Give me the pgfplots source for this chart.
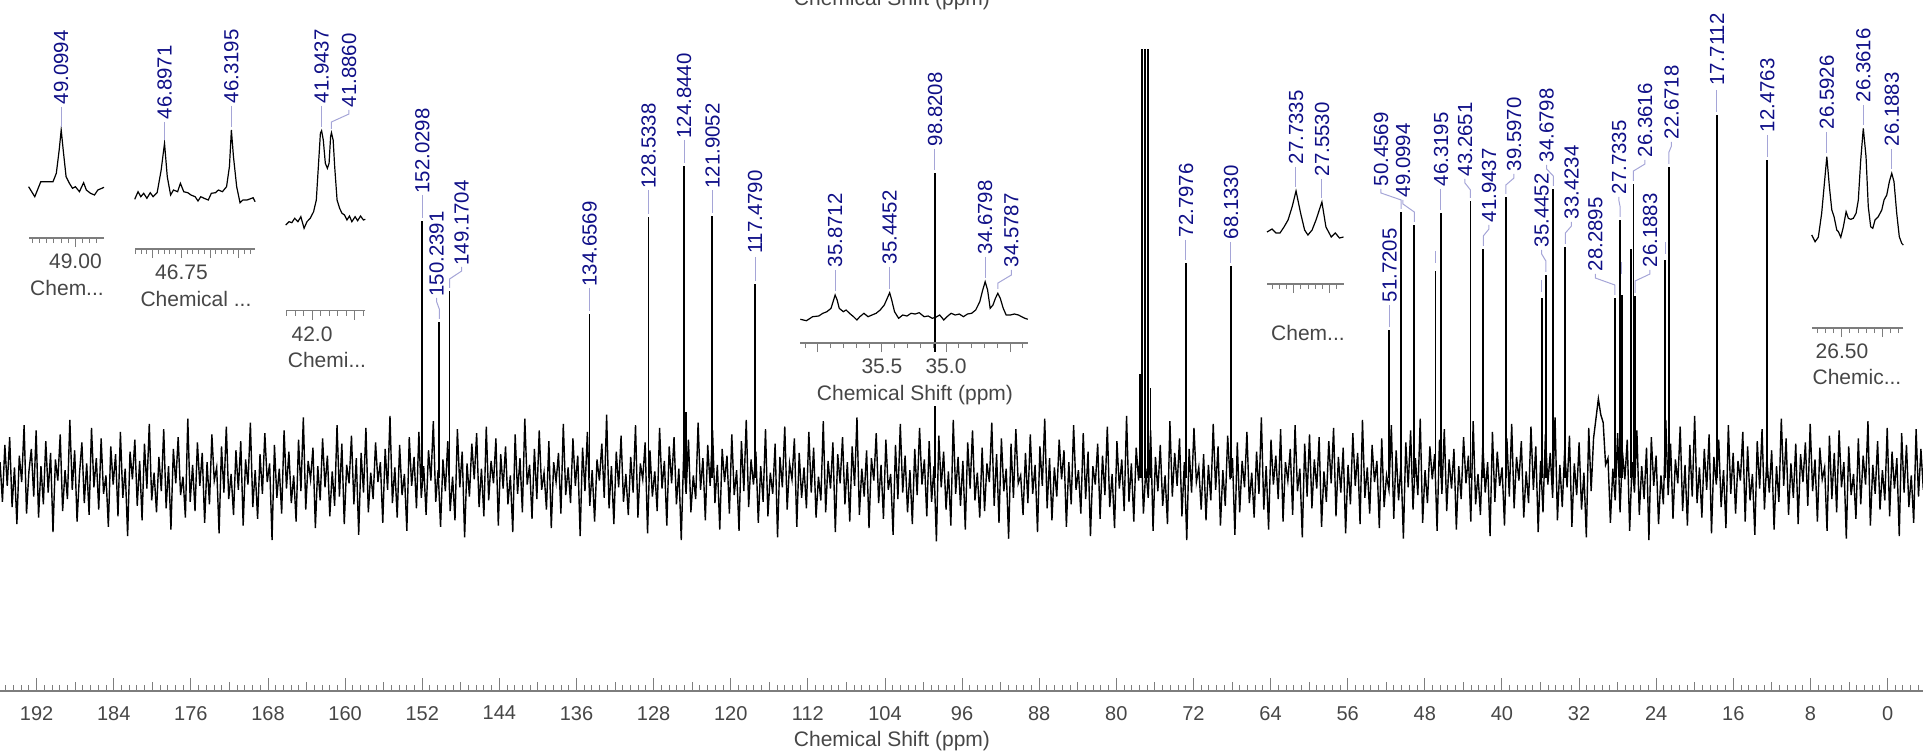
\documentclass[border=0pt]{standalone}
\usepackage{pgfplots}
\pgfplotsset{compat=1.18}
\usepackage{fontspec}
\setmainfont{Liberation Sans}
\definecolor{lblue}{RGB}{15,15,135}
\definecolor{leadc}{RGB}{165,165,215}
\definecolor{tgray}{RGB}{70,70,70}
\definecolor{agray}{RGB}{125,125,125}
\newcommand\lblfont{\fontsize{10.2bp}{12bp}\selectfont}
\newcommand\tfont{\fontsize{10.5bp}{12bp}\selectfont}
\newcommand\pl[3]{\node[rotate=90,anchor=east,inner sep=0pt,text=lblue,font=\lblfont] at (#1,#2) {#3};}
\pgfplotsset{inset/.style={anchor=south west, scale only axis, x dir=reverse,
  axis x line*=bottom, axis y line=none, tick align=outside,
  major tick length=4.5bp, minor tick length=2.5bp,
  axis line style={agray,line width=0.6bp}, tick style={agray,line width=0.5bp},
  xticklabel style={font=\tfont,text=tgray}, ymin=0, clip=false}}
\begin{document}
\begin{tikzpicture}
\useasboundingbox (0bp,0bp) rectangle (961.5bp,-375.5bp);
\begin{axis}[at={(0bp,-345.5bp)}, anchor=south west, scale only axis,
  width=961.5bp, height=320.5bp,
  xmin=-3.675, xmax=195.807, x dir=reverse, ymin=-213, ymax=428,
  axis x line*=bottom, axis y line=none,
  axis line style={agray,line width=0.6bp},
  xtick={0,8,...,192}, minor xtick={-3.2,-2.4,...,195.2},
  extra x ticks={4,12,...,188}, extra x tick labels={},
  extra x tick style={major tick length=4.5bp},
  tick align=inside, major tick length=6.5bp, minor tick length=3bp,
  tick style={agray,line width=0.5bp},
  xticklabel style={font=\fontsize{10bp}{12bp}\selectfont,text=tgray,yshift=-4bp},
  /pgf/number format/assume math mode=true, clip=true]
\addplot[black,line width=0.7bp] table[row sep=\\,header=false,x expr={195.8-\coordindex*0.2497},y expr={1.32*\thisrowno{0}}] {
12\\-18\\25\\-6\\31\\-22\\8\\-35\\17\\-3\\40\\-27\\5\\22\\-14\\36\\-30\\9\\-20\\28\\-11\\19\\-41\\14\\-2\\33\\-25\\6\\-16\\44\\-9\\21\\-33\\3\\27\\-19\\11\\-28\\38\\-7\\15\\-24\\30\\-12\\2\\-37\\24\\-5\\18\\-29\\
35\\-15\\7\\-44\\20\\-1\\29\\-21\\13\\-32\\26\\-8\\41\\-17\\4\\-26\\16\\-10\\37\\-23\\9\\-39\\22\\-4\\31\\-13\\1\\-30\\45\\-18\\10\\-25\\27\\-6\\19\\-34\\12\\-20\\33\\-2\\8\\-42\\24\\-11\\39\\-16\\3\\-28\\21\\-9\\
28\\-36\\14\\-5\\42\\-22\\6\\-31\\18\\-12\\34\\-3\\11\\-47\\25\\-15\\7\\-27\\36\\-8\\20\\-19\\2\\-33\\29\\-10\\46\\-24\\13\\-1\\23\\-38\\9\\-17\\30\\-7\\17\\-29\\5\\-21\\40\\-14\\26\\-35\\10\\-4\\32\\-20\\15\\-43\\
19\\-11\\38\\-26\\4\\-16\\27\\-3\\12\\-34\\22\\-9\\47\\-19\\8\\-30\\25\\-13\\3\\-40\\31\\-6\\16\\-23\\35\\-15\\9\\-28\\21\\-2\\43\\-18\\6\\-37\\14\\-10\\28\\-25\\1\\-32\\37\\-7\\20\\-45\\11\\-14\\26\\-1\\34\\-22\\
7\\-29\\39\\-17\\13\\-4\\30\\-36\\18\\-8\\24\\-20\\2\\-41\\33\\-12\\15\\-26\\45\\-5\\10\\-31\\22\\-16\\36\\-9\\4\\-24\\28\\-38\\12\\-3\\19\\-27\\41\\-13\\8\\-19\\30\\-6\\17\\-44\\23\\-10\\35\\-21\\6\\-33\\14\\-2\\
26\\-15\\48\\-23\\9\\-35\\20\\-7\\32\\-18\\3\\-28\\16\\-11\\40\\-30\\11\\-1\\27\\-42\\21\\-14\\5\\-25\\38\\-8\\13\\-36\\24\\-4\\31\\-20\\7\\-47\\18\\-12\\29\\-26\\2\\-16\\42\\-9\\15\\-32\\25\\-6\\36\\-19\\10\\-39\\
22\\-3\\17\\-27\\33\\-13\\6\\-40\\28\\-10\\44\\-22\\14\\-5\\20\\-34\\9\\-18\\37\\-29\\4\\-12\\26\\-45\\16\\-7\\39\\-24\\11\\-1\\30\\-37\\19\\-15\\8\\-23\\35\\-11\\23\\-30\\1\\-17\\43\\-26\\13\\-8\\27\\-41\\18\\-4\\
31\\-20\\12\\-33\\24\\-6\\46\\-28\\7\\-14\\21\\-38\\15\\-2\\34\\-19\\10\\-31\\29\\-9\\3\\-43\\25\\-16\\41\\-11\\17\\-26\\6\\-35\\22\\-13\\38\\-5\\14\\-29\\28\\-18\\9\\-48\\32\\-7\\20\\-24\\5\\-36\\44\\-12\\16\\-21\\
13\\-39\\27\\-8\\36\\-17\\4\\-30\\23\\-25\\11\\-3\\42\\-21\\18\\-34\\30\\-10\\7\\-46\\26\\-15\\37\\-4\\2\\-28\\19\\-19\\33\\-12\\10\\-41\\24\\-6\\45\\-23\\15\\-32\\8\\-14\\29\\-1\\21\\-37\\12\\-20\\40\\-9\\6\\-27\\
34\\-16\\20\\-44\\9\\-5\\26\\-31\\17\\-13\\39\\-22\\3\\-38\\28\\-8\\14\\-25\\47\\-18\\11\\-33\\23\\-2\\31\\-27\\7\\-15\\36\\-40\\16\\-10\\25\\-21\\2\\-35\\43\\-14\\19\\-6\\30\\-29\\12\\-47\\22\\-11\\38\\-3\\8\\-24\\
18\\-32\\10\\-17\\41\\-9\\24\\-36\\6\\-21\\32\\-1\\15\\-43\\27\\-26\\13\\-7\\35\\-19\\4\\-30\\20\\-12\\46\\-24\\9\\-39\\29\\-5\\17\\-16\\37\\-33\\12\\-2\\22\\-28\\40\\-10\\7\\-45\\26\\-14\\33\\-23\\14\\-8\\31\\-37\\
5\\-18\\28\\-4\\38\\-29\\16\\-11\\23\\-42\\10\\-20\\34\\-6\\19\\-35\\44\\-15\\8\\-27\\25\\-3\\13\\-38\\30\\-22\\2\\-9\\40\\-31\\21\\-17\\11\\-46\\27\\-7\\36\\-24\\15\\-13\\45\\-34\\6\\-19\\24\\-1\\18\\-40\\29\\-12\\
37\\-25\\14\\-8\\22\\-39\\9\\-16\\31\\-4\\17\\-33\\43\\-20\\3\\-28\\26\\-11\\12\\-44\\35\\-18\\20\\-6\\8\\-36\\30\\-14\\41\\-23\\16\\-2\\28\\-30\\5\\-19\\39\\-9\\24\\-41\\13\\-26\\33\\-5\\19\\-15\\46\\-32\\10\\-22\\
21\\-7\\32\\-37\\11\\-13\\27\\-24\\4\\-45\\38\\-10\\30\\45\\60\\48\\42\\10\\15\\-34\\7\\-17\\34\\-26\\20\\-1\\29\\-40\\12\\-11\\36\\-28\\9\\-16\\23\\-47\\31\\-6\\17\\-35\\2\\-20\\44\\-13\\26\\-31\\14\\-4\\39\\-25\\
10\\-36\\25\\-14\\47\\-19\\8\\-30\\22\\-9\\33\\-42\\16\\-5\\29\\-22\\6\\-38\\40\\-12\\19\\-27\\13\\-2\\35\\-33\\24\\-17\\3\\-43\\28\\-8\\37\\-24\\15\\-11\\21\\-39\\9\\-18\\45\\-6\\30\\-28\\11\\-15\\26\\-35\\18\\-3\\
27\\-21\\41\\-10\\14\\-33\\23\\-1\\8\\-40\\32\\-16\\19\\-26\\36\\-7\\12\\-46\\24\\-13\\3\\-31\\30\\-20\\17\\-5\\43\\-36\\10\\-12\\28\\-24\\6\\-17\\38\\-29\\20\\-8\\15\\-44\\34\\-11\\25\\-22\\2\\-34\\37\\-14\\22\\-9\\
};
\addplot[ycomb,black,line width=0.9bp,no marks] coordinates {
(152.0298,257)(150.2391,156)(149.1704,187)(134.6569,164)(128.5338,261)(124.8440,312)(124.65,66)
(121.9052,262)(117.4790,194)(98.8208,305)(77.55,104)(77.32,700)(77.0,700)(76.68,700)(76.45,90)
(72.7976,215)(68.1330,212)(51.7205,148)(50.4569,266)(49.0994,253)(46.8971,207)(46.3195,265)
(43.2651,277)(41.9437,229)(39.5970,281)(35.8712,180)(35.4452,203)(34.6798,289)(33.4234,231)
(28.2895,180)(27.7335,258)(27.5530,183)(26.5926,229)(26.3616,294)(26.1883,182)(23.05,218)
(22.6718,311)(17.7112,363)(12.4763,318)};
\end{axis}
\begin{scope}[x=0.5bp,y=-0.5bp]
\fill[white] (799,352) rectangle (1030,406);
\end{scope}
% inset 1
\begin{axis}[inset, at={(14.3bp,-119bp)}, width=37.7bp, height=57.5bp,
  xmin=48.801, xmax=49.326, ymax=115, xtick={49.0}, xticklabels={49.00},
  minor xtick={48.85,48.9,48.95,49.05,49.1,49.15,49.2,49.25,49.3}]
\addplot[black,line width=0.6bp] coordinates {(49.326,51.3)(49.283,41.3)(49.241,56.3)(49.156,56.3)(49.133,64.7)(49.113,88)(49.099,108)(49.085,88)(49.065,61.3)(49.042,54.7)(49.020,49.7)(49.000,51.3)(48.972,46.3)(48.943,55.3)(48.924,48)(48.895,44.7)(48.867,43)(48.844,48)(48.816,49.7)(48.801,50.7)};
\end{axis}
% inset 2
\begin{axis}[inset, at={(67.35bp,-124.5bp)}, width=60.2bp, height=62.5bp,
  xmin=46.110, xmax=47.156, ymax=125, xtick={47.0,46.75,46.5,46.25}, xticklabels={,46.75,,},
  minor xtick={46.15,46.2,...,47.15}]
\addplot[black,line width=0.6bp] coordinates {(47.156,49.7)(47.127,57.3)(47.103,52.3)(47.078,55.7)(47.050,50.7)(47.021,56.3)(46.996,52.3)(46.961,56.3)(46.926,79)(46.897,105.7)(46.873,72.3)(46.844,54)(46.819,59)(46.783,57.3)(46.759,65.7)(46.730,57.3)(46.695,56.3)(46.667,54)(46.631,52.3)(46.606,48)(46.582,52.3)(46.553,50.7)(46.517,49)(46.490,55.7)(46.454,56.3)(46.429,59)(46.394,57.3)(46.358,62.3)(46.333,82.3)(46.316,119)(46.298,92.3)(46.270,62.3)(46.241,46.3)(46.216,49)(46.181,49)(46.156,50)(46.127,51.3)(46.110,47.3)};
\end{axis}
% inset 3
\begin{axis}[inset, at={(142.85bp,-155.35bp)}, width=39.8bp, height=92.5bp,
  xmin=41.687, xmax=42.155, ymax=185, xtick={42.0,41.75}, xticklabels={42.0,},
  minor xtick={41.7,41.75,...,42.15}]
\addplot[black,line width=0.6bp] coordinates {(42.155,85.7)(42.135,89)(42.119,88)(42.102,92.4)(42.083,89)(42.066,94)(42.047,82.4)(42.030,89)(42.011,92.4)(41.991,99)(41.975,110.7)(41.963,144)(41.951,177.4)(41.944,180)(41.934,170.7)(41.922,147.4)(41.910,142.4)(41.900,147.4)(41.891,174)(41.886,178)(41.876,170.7)(41.867,144)(41.853,110.7)(41.838,102.4)(41.824,97.4)(41.809,95.7)(41.795,90.7)(41.780,94.7)(41.766,89)(41.747,94)(41.732,90)(41.715,94.7)(41.698,90.7)(41.687,91.4)};
\end{axis}
% inset 4
\begin{axis}[inset, at={(400.15bp,-171.5bp)}, width=113.75bp, height=35bp,
  xmin=34.361, xmax=36.138, ymax=70, xtick={36.0,35.5,35.0,34.5}, xticklabels={,35.5,35.0,},
  minor xtick={34.4,34.5,...,36.1}]
\addplot[black,line width=0.6bp] coordinates {(36.138,23.7)(36.090,22.3)(36.042,26.3)(35.994,27)(35.962,29.7)(35.930,31.3)(35.898,34.7)(35.882,41.3)(35.866,48)(35.850,43)(35.834,34.7)(35.802,31.3)(35.780,33)(35.754,29.7)(35.722,26.3)(35.696,23)(35.673,26.3)(35.641,29.7)(35.609,26.3)(35.578,28)(35.546,29.7)(35.514,33)(35.482,38)(35.459,44.7)(35.440,50.3)(35.424,43)(35.402,31.3)(35.370,24.7)(35.338,28)(35.305,27)(35.273,29.7)(35.241,29)(35.209,30.3)(35.171,26.3)(35.139,27)(35.107,24.7)(35.081,25.7)(35.049,28)(35.017,23)(34.992,26.3)(34.960,29.7)(34.928,28)(34.896,29)(34.864,26.3)(34.832,29)(34.800,29.7)(34.768,33)(34.736,41.3)(34.713,53)(34.694,61.3)(34.675,53)(34.655,34.7)(34.633,38)(34.614,44.7)(34.595,49.7)(34.576,44.7)(34.553,34.7)(34.530,28)(34.498,28)(34.466,29)(34.434,28)(34.409,26.3)(34.384,24.7)(34.361,23.7)};
\end{axis}
% inset 5
\begin{axis}[inset, at={(633.5bp,-142bp)}, width=38.25bp, height=50bp,
  xmin=27.404, xmax=27.935, ymax=100, xtick={27.75,27.5}, xticklabels={\mbox{},\mbox{}},
  minor xtick={27.45,27.5,...,27.9}]
\addplot[black,line width=0.6bp] coordinates {(27.935,52)(27.900,55)(27.872,51)(27.845,51)(27.817,57)(27.789,64)(27.761,77)(27.7335,93)(27.702,71)(27.674,54)(27.651,49)(27.622,54)(27.595,64)(27.554,82)(27.526,57)(27.489,47)(27.461,51)(27.432,46)(27.404,47)};
\end{axis}
% inset 6
\begin{axis}[inset, at={(905.85bp,-164bp)}, width=45.8bp, height=105bp,
  xmin=26.118, xmax=26.688, ymax=210, xtick={26.5,26.25}, xticklabels={26.50,},
  minor xtick={26.15,26.2,...,26.65}]
\addplot[black,line width=0.6bp] coordinates {(26.688,93)(26.667,86.3)(26.647,90.7)(26.626,114.7)(26.611,141.3)(26.594,171.3)(26.578,141.3)(26.563,118)(26.549,111.3)(26.532,98)(26.522,96.3)(26.507,90.7)(26.491,101.3)(26.474,116.3)(26.460,109.7)(26.445,108.7)(26.429,109.7)(26.412,114.7)(26.398,128)(26.383,168)(26.367,199.7)(26.350,171.3)(26.336,121.3)(26.321,101.3)(26.308,99.7)(26.294,108)(26.274,111.3)(26.252,118)(26.238,128)(26.221,133)(26.205,146.3)(26.190,154.7)(26.176,146.3)(26.159,114.7)(26.143,91.3)(26.128,84.7)(26.118,83)};
\end{axis}
\begin{scope}[x=0.5bp,y=-0.5bp,ld/.style={draw=leadc,line width=0.5bp}]
\node[font=\tfont,text=tgray,anchor=base] at (892,5) {Chemical Shift (ppm)};
\node[font=\tfont,text=tgray] at (892,741) {Chemical Shift (ppm)};
\node[font=\tfont,text=tgray] at (67,288) {Chem...};
\node[font=\tfont,text=tgray] at (196,299) {Chemical ...};
\node[font=\tfont,text=tgray] at (327,360) {Chemi...};
\node[font=\tfont,text=tgray] at (915,395) {Chemical Shift (ppm)};
\node[font=\tfont,text=tgray] at (1308,333) {Chem...};
\node[font=\tfont,text=tgray] at (1857,377) {Chemic...};
% main labels
\pl{422.3}{108}{152.0298} \draw[ld] (422.3,195)--(422.3,218);
\pl{436.7}{211}{150.2391} \draw[ld] (436.7,298)--(436.7,302)--(439.3,309)--(439.3,319);
\pl{461.7}{180}{149.1704} \draw[ld] (461.7,267)--(461.7,271)--(449.6,279)--(449.6,288);
\pl{589.6}{201}{134.6569} \draw[ld] (589.6,288)--(589.6,311);
\pl{648.6}{103}{128.5338} \draw[ld] (648.6,190)--(648.6,214);
\pl{684.2}{53}{124.8440} \draw[ld] (684.2,140)--(684.2,163);
\pl{712.5}{103}{121.9052} \draw[ld] (712.5,190)--(712.5,213);
\pl{755.2}{170}{117.4790} \draw[ld] (755.2,257)--(755.2,281);
\pl{935}{72}{98.8208} \draw[ld] (935,149)--(935,170);
\pl{1186}{163}{72.7976} \draw[ld] (1186,240)--(1186,260);
\pl{1231}{165}{68.1330} \draw[ld] (1231,242)--(1231,263);
\pl{1389.5}{228}{51.7205} \draw[ld] (1389.5,305)--(1389.5,327);
\pl{1381}{112}{50.4569} \draw[ld] (1381,189)--(1381,193)--(1401.2,200)--(1401.2,209);
\pl{1403}{123}{49.0994} \draw[ld] (1403,200)--(1403,204)--(1414.3,212)--(1414.3,222);
\draw[ld] (1435.5,251)--(1435.5,263);
\pl{1441}{112}{46.3195} \draw[ld] (1441,189)--(1441,210);
\pl{1465}{102}{43.2651} \draw[ld] (1465,179)--(1465,183)--(1470.5,190)--(1470.5,198);
\pl{1489}{148}{41.9437} \draw[ld] (1489,225)--(1489,229)--(1483.3,236)--(1483.3,246);
\pl{1514}{97}{39.5970} \draw[ld] (1514,174)--(1514,178)--(1505.9,185)--(1505.9,194);
\draw[ld] (1541.8,280)--(1541.8,292);
\pl{1541.7}{173}{35.4452} \draw[ld] (1541.7,250)--(1541.7,254)--(1545.9,261)--(1545.9,272);
\pl{1546.7}{88}{34.6798} \draw[ld] (1546.7,165)--(1546.7,169)--(1553.3,176)--(1553.3,186);
\pl{1571.5}{145}{33.4234} \draw[ld] (1571.5,222)--(1571.5,226)--(1565.4,233)--(1565.4,244);
\pl{1595.3}{197}{28.2895} \draw[ld] (1595.3,274)--(1595.3,278)--(1614.9,285)--(1614.9,295);
\pl{1619}{120}{27.7335} \draw[ld] (1619,197)--(1619,201)--(1620.2,207)--(1620.2,217);
\draw[ld] (1622,262)--(1622,274);
\pl{1645}{83}{26.3616} \draw[ld] (1645,160)--(1645,164)--(1633.5,171)--(1633.5,181);
\pl{1650}{193}{26.1883} \draw[ld] (1650,270)--(1650,274)--(1635.1,281)--(1635.1,293);
\draw[ld] (1665.4,242)--(1665.4,254);
\pl{1671.5}{65}{22.6718} \draw[ld] (1671.5,142)--(1671.5,146)--(1669,152)--(1669,164);
\pl{1717}{13}{17.7112} \draw[ld] (1717,90)--(1717,112);
\pl{1767.5}{58}{12.4763} \draw[ld] (1767.5,135)--(1767.5,157);
% inset labels
\pl{61.2}{30}{49.0994} \draw[ld] (61.2,107)--(61.2,127);
\pl{164.5}{45}{46.8971} \draw[ld] (164.5,122)--(164.5,140);
\pl{231.4}{29}{46.3195} \draw[ld] (231.4,106)--(231.4,127);
\pl{321.6}{29}{41.9437} \draw[ld] (321.6,106)--(321.6,127);
\pl{349}{33}{41.8860} \draw[ld] (349,110)--(349,114)--(331.4,122)--(331.4,129);
\pl{835.2}{193}{35.8712} \draw[ld] (835.2,270)--(835.2,291);
\pl{889.7}{190}{35.4452} \draw[ld] (889.7,267)--(889.7,289);
\pl{985.2}{180}{34.6798} \draw[ld] (985.2,257)--(985.2,278);
\pl{1011.4}{193}{34.5787} \draw[ld] (1011.4,270)--(1011.4,275)--(998,283)--(998,289);
\pl{1296}{90}{27.7335} \draw[ld] (1296,167)--(1296,187);
\pl{1322}{102}{27.5530} \draw[ld] (1322,179)--(1322,198);
\pl{1827}{55}{26.5926} \draw[ld] (1827,132)--(1827,153);
\pl{1863.3}{28}{26.3616} \draw[ld] (1863.3,105)--(1863.3,125);
\pl{1892}{72}{26.1883} \draw[ld] (1892,149)--(1892,169);
\end{scope}
\end{tikzpicture}
\end{document}
